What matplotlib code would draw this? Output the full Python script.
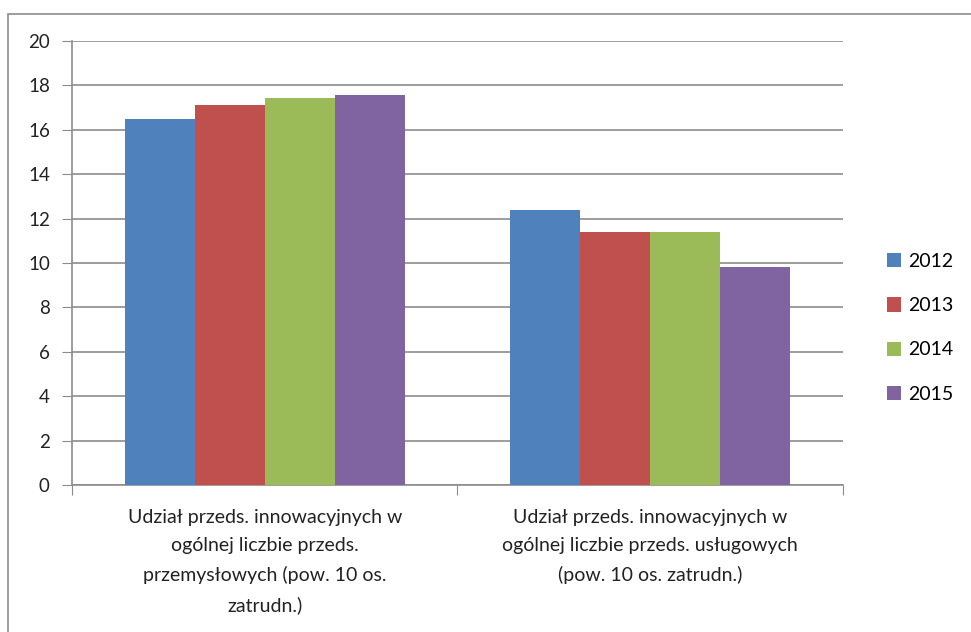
import matplotlib.pyplot as plt
import matplotlib.patches as mpatches
import numpy as np

plt.rcParams['font.family'] = ['Lato', 'DejaVu Sans']

# data
categories = ['Udział przeds. innowacyjnych w\nogólnej liczbie przeds.\nprzemysłowych (pow. 10 os.\nzatrudn.)',
              'Udział przeds. innowacyjnych w\nogólnej liczbie przeds. usługowych\n(pow. 10 os. zatrudn.)']
years = ['2012', '2013', '2014', '2015']
v2012 = [16.5, 12.4]
v2013 = [17.1, 11.4]
v2014 = [17.45, 11.4]
v2015 = [17.55, 9.8]
colors = ['#4f81bd', '#c0504d', '#9bbb59', '#8064a2']

series = [v2012, v2013, v2014, v2015]

fig = plt.figure(figsize=(9.71, 6.32), dpi=100)
ax = fig.add_axes([0.0742, 0.2326, 0.7938, 0.7025])

# outer chart frame
fig.patches.append(mpatches.Rectangle((8 / 971, -0.1), 1.1, 1 - 14 / 632 + 0.1,
                                      transform=fig.transFigure, fill=False,
                                      edgecolor='#8c8c8c', linewidth=1.2))

n = len(series)
bw = 1.0 / (n + 1.5)
x = np.arange(len(categories))
for i, vals in enumerate(series):
    ax.bar(x - 2 * bw + (i + 0.5) * bw, vals, width=bw, color=colors[i],
           label=years[i], zorder=3, edgecolor='none')

ax.set_xlim(-0.5, 1.5)
ax.set_ylim(0, 20)
ax.set_yticks(range(0, 21, 2))
ax.yaxis.grid(True, color='#8c8c8c', linewidth=1.2, zorder=0)

ax.set_xticks([-0.5, 0.5, 1.5])
ax.set_xticklabels([])
ax.set_xticks(x, minor=True)
ax.set_xticklabels(categories, minor=True, fontsize=14, linespacing=1.8, color='#222222')
ax.tick_params(axis='x', which='minor', length=0, pad=17)
ax.tick_params(axis='x', which='major', length=7, color='#8c8c8c', direction='out')
ax.tick_params(axis='y', length=7, color='#8c8c8c', labelsize=13.5, pad=9, labelcolor='#222222')

for s in ['top', 'right']:
    ax.spines[s].set_visible(False)
for s in ['left', 'bottom']:
    ax.spines[s].set_color('#8c8c8c')
    ax.spines[s].set_linewidth(1.2)

ax.legend(loc='center left', bbox_to_anchor=(1.034, 0.354), frameon=False,
          fontsize=14, handlelength=0.75, handleheight=0.75, handletextpad=0.35,
          labelspacing=1.4)

plt.savefig('out.png', dpi=100)
